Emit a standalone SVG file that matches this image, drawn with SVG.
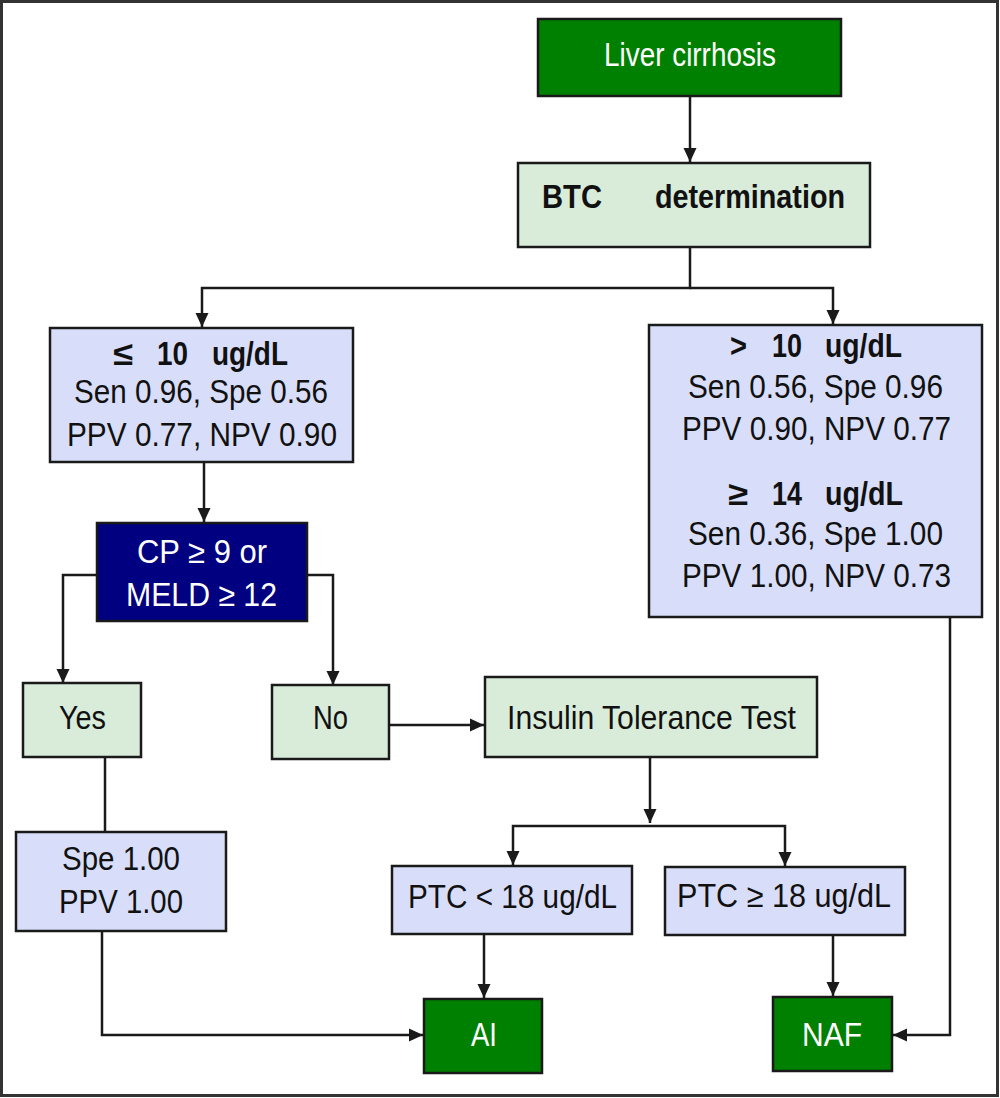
<svg xmlns="http://www.w3.org/2000/svg" width="1000" height="1098" viewBox="0 0 1000 1098">
<style>
.box{stroke:#1a1a1a;stroke-width:2.5}
.dg{fill:#008000}
.lg{fill:#d9ecda}
.lv{fill:#d8defa}
.nv{fill:#000080}
.t{font-family:"Liberation Sans Narrow","Liberation Sans",Arial,sans-serif;font-size:33px;fill:#111}
.w{fill:#fff}
.b{font-weight:bold}
.c{fill:none;stroke:#1a1a1a;stroke-width:2.5}
</style>
<defs>
<marker id="ah" markerUnits="userSpaceOnUse" markerWidth="14" markerHeight="14" refX="14" refY="6.5" orient="auto" viewBox="0 0 14 13">
<path d="M0,0 L14,6.5 L0,13 z" fill="#1a1a1a"/>
</marker>
</defs>
<rect x="1.5" y="1.5" width="996" height="1094" fill="#fff" stroke="#333" stroke-width="3"/>

<g id="connectors">
<path class="c" d="M690,96 V162" marker-end="url(#ah)"/>
<path class="c" d="M690,247 V288 H202 V327" marker-end="url(#ah)"/>
<path class="c" d="M690,288 H833 V324" marker-end="url(#ah)"/>
<path class="c" d="M204,462 V522" marker-end="url(#ah)"/>
<path class="c" d="M97,575 H63 V683" marker-end="url(#ah)"/>
<path class="c" d="M307,575 H333 V685" marker-end="url(#ah)"/>
<path class="c" d="M389,725 H484" marker-end="url(#ah)"/>
<path class="c" d="M650,757 V823" marker-end="url(#ah)"/>
<path class="c" d="M650,826 H513 V865" marker-end="url(#ah)"/>
<path class="c" d="M650,826 H785 V866" marker-end="url(#ah)"/>
<path class="c" d="M105,757 V832"/>
<path class="c" d="M102,931 V1035 H423" marker-end="url(#ah)"/>
<path class="c" d="M484,934 V998" marker-end="url(#ah)"/>
<path class="c" d="M833,935 V996" marker-end="url(#ah)"/>
<path class="c" d="M950,617 V1035 H893" marker-end="url(#ah)"/>
</g>

<g id="liver">
<rect class="box dg" x="538" y="19" width="303" height="77"/>
<text class="t w" x="604" y="66" font-size="38" textLength="172" lengthAdjust="spacingAndGlyphs">Liver cirrhosis</text>
</g>

<g id="btc">
<rect class="box lg" x="518" y="163" width="352" height="84"/>
<text class="t b" y="208" font-size="35"><tspan x="542" textLength="60" lengthAdjust="spacingAndGlyphs">BTC</tspan> <tspan x="655" textLength="190" lengthAdjust="spacingAndGlyphs">determination</tspan></text>
</g>

<g id="le10">
<rect class="box lv" x="50" y="328" width="303" height="134"/>
<text class="t b" y="365" font-size="30"><tspan x="113" textLength="20" lengthAdjust="spacingAndGlyphs">≤</tspan> <tspan x="157" textLength="31" lengthAdjust="spacingAndGlyphs">10</tspan> <tspan x="212" textLength="76" lengthAdjust="spacingAndGlyphs">ug/dL</tspan></text>
<text class="t" x="74" y="403" textLength="254" lengthAdjust="spacingAndGlyphs">Sen 0.96, Spe 0.56</text>
<text class="t" x="67" y="446" textLength="270" lengthAdjust="spacingAndGlyphs">PPV 0.77, NPV 0.90</text>
</g>

<g id="gt10">
<rect class="box lv" x="649" y="325" width="333" height="292"/>
<text class="t b" y="357" font-size="30"><tspan x="730" textLength="17" lengthAdjust="spacingAndGlyphs">&gt;</tspan> <tspan x="772" textLength="30" lengthAdjust="spacingAndGlyphs">10</tspan> <tspan x="825" textLength="77" lengthAdjust="spacingAndGlyphs">ug/dL</tspan></text>
<text class="t" x="688" y="398" textLength="255" lengthAdjust="spacingAndGlyphs">Sen 0.56, Spe 0.96</text>
<text class="t" x="682" y="440" textLength="269" lengthAdjust="spacingAndGlyphs">PPV 0.90, NPV 0.77</text>
<text class="t b" y="505" font-size="30"><tspan x="728" textLength="20" lengthAdjust="spacingAndGlyphs">≥</tspan> <tspan x="772" textLength="30" lengthAdjust="spacingAndGlyphs">14</tspan> <tspan x="825" textLength="78" lengthAdjust="spacingAndGlyphs">ug/dL</tspan></text>
<text class="t" x="688" y="545" textLength="255" lengthAdjust="spacingAndGlyphs">Sen 0.36, Spe 1.00</text>
<text class="t" x="682" y="587" textLength="269" lengthAdjust="spacingAndGlyphs">PPV 1.00, NPV 0.73</text>
</g>

<g id="cp">
<rect class="box nv" x="97" y="523" width="210" height="98"/>
<text class="t w" x="137" y="563" textLength="130" lengthAdjust="spacingAndGlyphs">CP ≥ 9 or</text>
<text class="t w" x="126" y="606" textLength="151" lengthAdjust="spacingAndGlyphs">MELD ≥ 12</text>
</g>

<g id="yes">
<rect class="box lg" x="23" y="683" width="118" height="74"/>
<text class="t" x="59" y="729" font-size="36" textLength="47" lengthAdjust="spacingAndGlyphs">Yes</text>
</g>

<g id="no">
<rect class="box lg" x="272" y="685" width="117" height="74"/>
<text class="t" x="313" y="729" font-size="36" textLength="35" lengthAdjust="spacingAndGlyphs">No</text>
</g>

<g id="itt">
<rect class="box lg" x="485" y="677" width="332" height="80"/>
<text class="t" x="507" y="729" textLength="289" lengthAdjust="spacingAndGlyphs">Insulin Tolerance Test</text>
</g>

<g id="spe">
<rect class="box lv" x="16" y="832" width="210" height="99"/>
<text class="t" x="62" y="870" textLength="118" lengthAdjust="spacingAndGlyphs">Spe 1.00</text>
<text class="t" x="59" y="913" textLength="124" lengthAdjust="spacingAndGlyphs">PPV 1.00</text>
</g>

<g id="ptclt">
<rect class="box lv" x="392" y="866" width="240" height="68"/>
<text class="t" x="408" y="908" font-size="34" textLength="209" lengthAdjust="spacingAndGlyphs">PTC &lt; 18 ug/dL</text>
</g>

<g id="ptcge">
<rect class="box lv" x="665" y="867" width="240" height="68"/>
<text class="t" x="677" y="907" font-size="34" textLength="214" lengthAdjust="spacingAndGlyphs">PTC ≥ 18 ug/dL</text>
</g>

<g id="ai">
<rect class="box dg" x="424" y="999" width="118" height="74"/>
<text class="t w" x="471" y="1046" font-size="35" textLength="26" lengthAdjust="spacingAndGlyphs">AI</text>
</g>

<g id="naf">
<rect class="box dg" x="773" y="997" width="119" height="74"/>
<text class="t w" x="802" y="1046" font-size="35" textLength="60" lengthAdjust="spacingAndGlyphs">NAF</text>
</g>
</svg>
